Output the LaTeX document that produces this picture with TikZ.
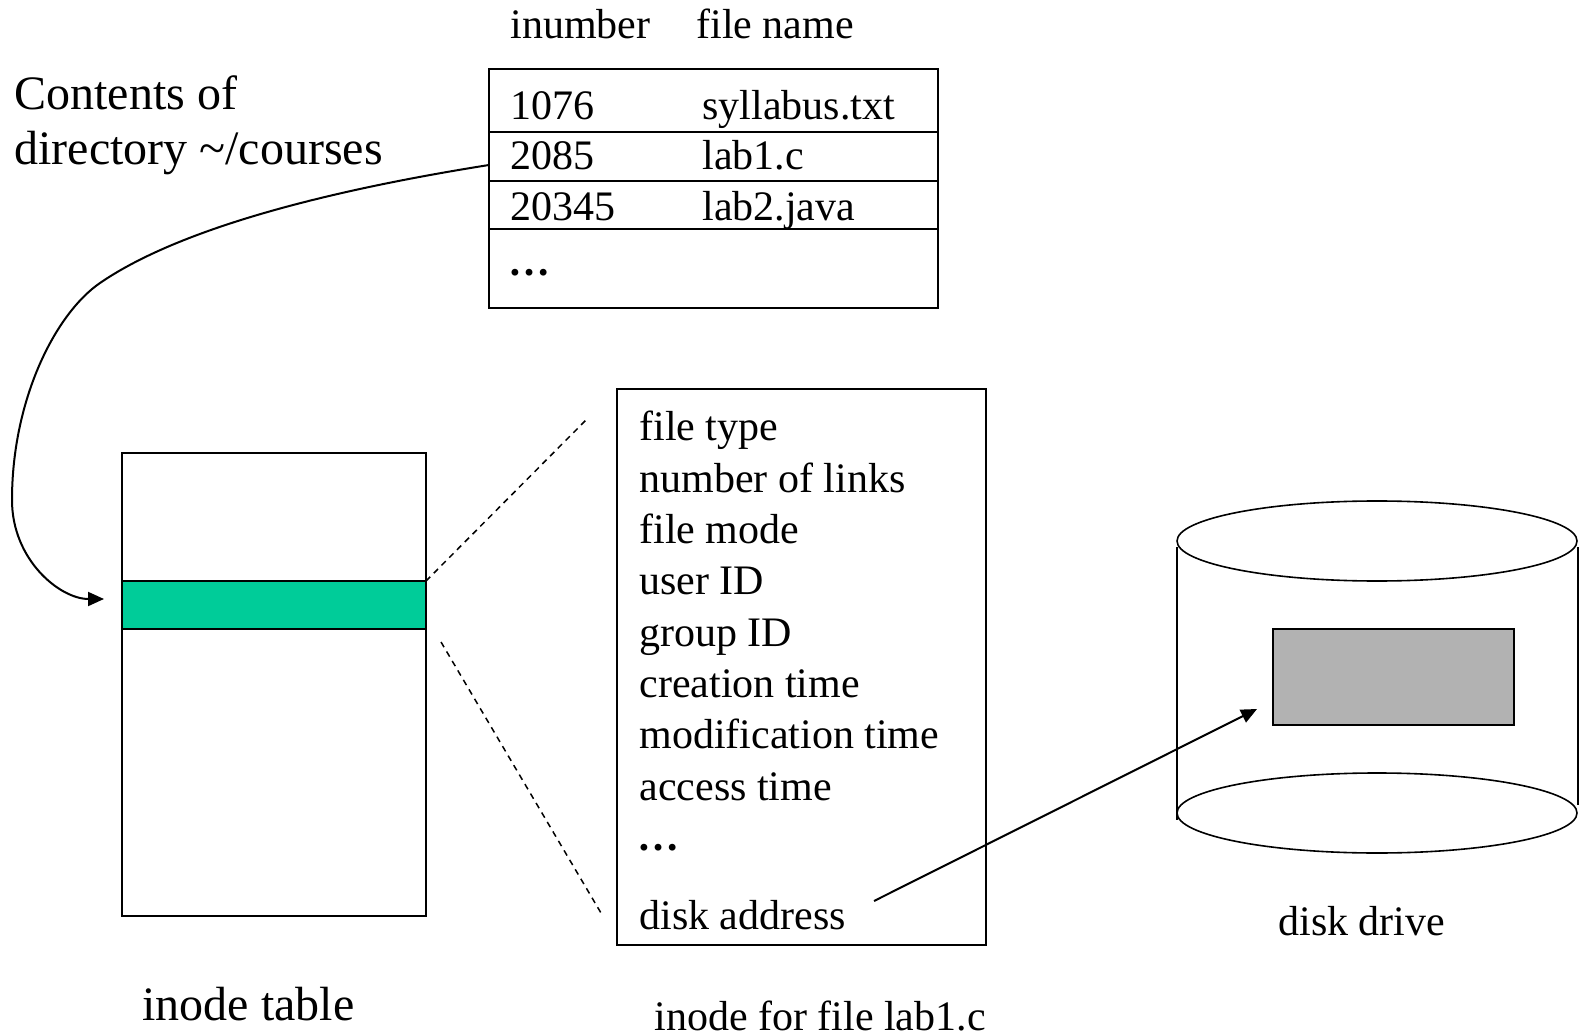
\documentclass[tikz,border=0pt]{standalone}
\usepackage{fontspec}
\setmainfont{Liberation Serif}
\usetikzlibrary{arrows.meta}
\definecolor{slotgreen}{RGB}{0,204,153}
\definecolor{blockgray}{RGB}{178,178,178}
\tikzset{
  txt/.style={anchor=base west, inner sep=0pt, font=\fontsize{21}{25}\selectfont},
  bigtxt/.style={anchor=base west, inner sep=0pt, font=\fontsize{24}{28.5}\selectfont},
  thinline/.style={line width=1pt},
  thickline/.style={line width=1.4pt},
  zoomline/.style={line width=0.75pt, dash pattern=on 3pt off 2.5pt},
  ptr/.style={line width=1pt, -{Triangle[length=8pt,width=7pt]}}
}
\begin{document}
\begin{tikzpicture}[x=0.5pt,y=-0.5pt]
\useasboundingbox (0,0) rectangle (1582,1036);

% Drawing directory contents
\node (hdrnum) [txt] at (510,39) {inumber};
\node (hdrname) [txt] at (696,39) {file name};
\draw [thinline] (489,69) rectangle (938,308);
\foreach \yy in {132,181,229}
  \draw [thinline] (489,\yy) -- (938,\yy);
\node (num1) [txt] at (510,120) {1076};
\node (name1) [txt] at (702,120) {syllabus.txt};
\node (num2) [txt] at (510,170) {2085};
\node (name2) [txt] at (702,170) {lab1.c};
\node (num3) [txt] at (510,221) {20345};
\node (name3) [txt] at (702,221) {lab2.java};
\node (dirdots) [txt] at (508,276) {\textbf{…}};
\coordinate (row2) at (489,165);

% Caption of directory
\node (dircap1) [bigtxt] at (14,110) {Contents of};
\node (dircap2) [bigtxt] at (14,165) {directory \char"7E/courses};

% Drawing inode table
\fill [slotgreen] (122,581) rectangle (426,629);
\draw [thickline] (122,453) rectangle (426,916);
\draw [thickline] (122,581) -- (426,581);
\draw [thickline] (122,629) -- (426,629);
\coordinate (slottop) at (426,581);
\coordinate (slotlow) at (441,642);
\coordinate (slotin) at (104,599);
\node (tblcap) [bigtxt] at (142,1020) {inode table};

% Pointer from directory entry to inode
\draw [ptr] (row2) .. controls (300,195) and (170,235) .. (100,283)
  .. controls (55,314) and (12,400) .. (12,500)
  .. controls (12,560) and (60,599) .. (slotin);

% Drawing inode contents
\draw [thinline] (617,389) rectangle (986,945);
\foreach \lbl [count=\i from 0] in {file type,number of links,file mode,user ID,group ID,creation time,modification time,access time}
  \node (fld\i) [txt] at (639,441+51.3*\i) {\lbl};
\node (flddots) [txt] at (637,850) {\textbf{…}};
\node (addr) [txt] at (639,929) {disk address};
\coordinate (boxtop) at (587,419);
\coordinate (boxlow) at (601,913);
\node (inocap) [txt] at (654,1030) {inode for file lab1.c};

% Zoom lines
\draw [zoomline] (slottop) -- (boxtop);
\draw [zoomline] (slotlow) -- (boxlow);

% Drawing disk drive
\draw [line width=0.8pt] (1377,813) ellipse (200 and 40);
\draw [line width=0.8pt] (1377,541) ellipse (200 and 40);
\draw [line width=0.8pt] (1177,547) -- (1177,820);
\draw [line width=0.8pt] (1578,547) -- (1578,805);
\draw [thinline, fill=blockgray] (1273,629) rectangle (1514,725);
\coordinate (blocktip) at (1257,709);
\node (diskcap) [txt] at (1278,935) {disk drive};

% Pointer from disk address to block
\coordinate (addrend) at (874,901);
\draw [ptr] (addrend) -- (blocktip);
\end{tikzpicture}
\end{document}
